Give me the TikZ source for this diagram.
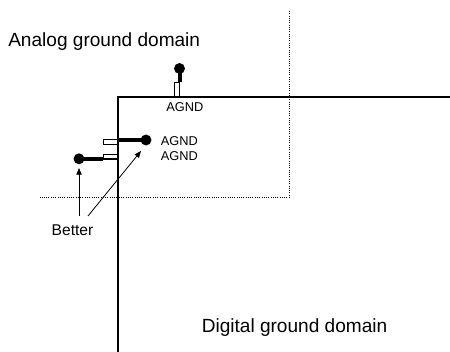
\documentclass[tikz,border=0pt]{standalone}
\usepackage{fontspec}
\setmainfont{Liberation Sans}
\usetikzlibrary{arrows.meta}
\tikzset{
  big/.style={inner sep=0pt,font=\fontsize{14.3pt}{16pt}\selectfont},
  small/.style={inner sep=0pt,font=\fontsize{9.6pt}{11pt}\selectfont},
  plane/.style={line width=1.5pt,line cap=rect},
  pad/.style={draw,fill=white,line width=1pt,inner sep=0pt,outer sep=0pt},
  trace/.style={line width=3pt},
  via/.style={circle,fill=black,inner sep=0pt,minimum size=8.2pt},
  bound/.style={line width=0.7pt,densely dotted},
  pointer/.style={line width=0.6pt,-{Triangle[length=5pt,width=4pt]}}
}
\begin{document}
\begin{tikzpicture}[x=0.75pt,y=-0.75pt]
\useasboundingbox (0,0) rectangle (450,352);
% domain boundaries
\coordinate (dtop) at (289.5,11);
\coordinate (dcorner) at (289.5,197);
\coordinate (dleft) at (40,197);
\draw[bound] (dtop) -- (dcorner) -- (dleft);
\coordinate (pright) at (450,97);
\coordinate (pcorner) at (118,97);
\coordinate (pbottom) at (118,354);
% pads sit under the plane line
\node[pad,minimum width=3.6pt,minimum height=11pt,anchor=south] (p1) at (177.2,97) {};
\node[pad,minimum width=11pt,minimum height=3.6pt,anchor=east] (p2) at (118,142.2) {};
\node[pad,minimum width=11pt,minimum height=3.6pt,anchor=east] (p3) at (118,156.7) {};
\draw[plane] (pright) -- (pcorner) -- (pbottom);
% vias
\node[via] (v1) at (179.5,68.5) {};
\node[via] (v2) at (146,140) {};
\node[via] (v3) at (79,158.8) {};
\draw[trace] (v1.center) -- (v1.center |- p1.north);
\draw[trace] (v2.center) -- (v2.center -| pcorner);
\draw[trace] (v3.center) -- (v3.center -| p3.west);
% labels
\node[big,anchor=base west] (t1) at (8,47) {Analog ground domain};
\node[big,anchor=base west] (t2) at (201.5,333) {Digital ground domain};
\node[small,anchor=west] (a1) at (166,107.3) {AGND};
\node[small,anchor=west] (a2) at (160.6,140.7) {AGND};
\node[small,anchor=west] (a3) at (160.6,155.7) {AGND};
\node[inner sep=0pt,font=\fontsize{11.7pt}{13pt}\selectfont] (b) at (72.5,230) {Better};
% arrows
\coordinate (s1) at (79,216);
\coordinate (e1) at (79,168);
\coordinate (s2) at (88,216);
\coordinate (e2) at (141,151);
\draw[pointer] (s1) -- (e1);
\draw[pointer] (s2) -- (e2);
\end{tikzpicture}
\end{document}
